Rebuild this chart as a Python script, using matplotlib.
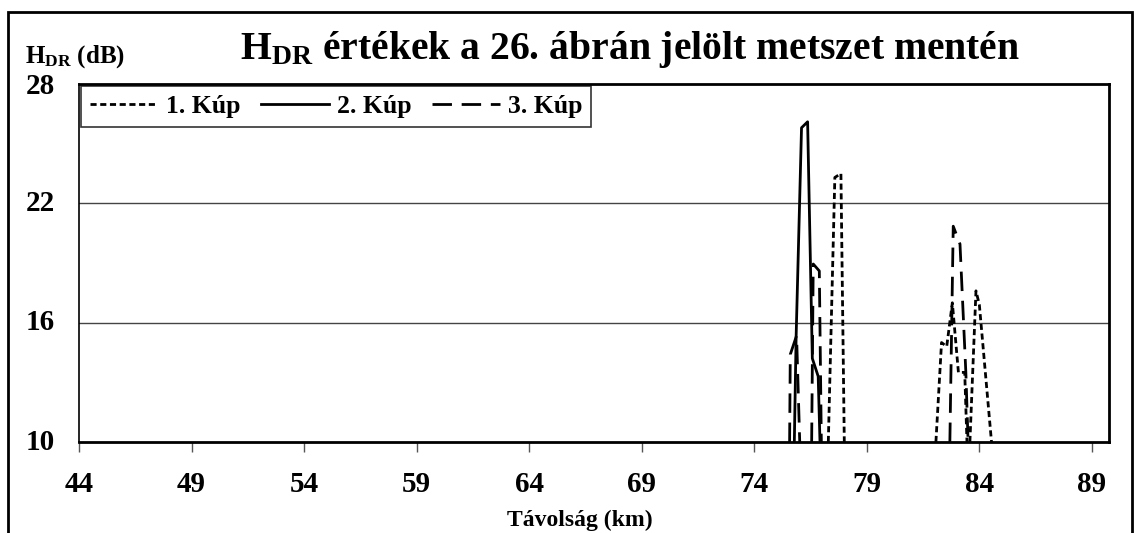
import matplotlib
matplotlib.use("Agg")
import matplotlib.pyplot as plt
import numpy as np
from matplotlib.patches import Rectangle

plt.rcParams['font.family'] = ['Liberation Serif', 'DejaVu Serif']
plt.rcParams['font.weight'] = 'bold'
plt.rcParams['mathtext.fontset'] = 'custom'
plt.rcParams['mathtext.rm'] = 'Liberation Serif:bold'
plt.rcParams['mathtext.bf'] = 'Liberation Serif:bold'
plt.rcParams['mathtext.it'] = 'Liberation Serif:bold'

# H_DR profiles along the section (km, dB); points at 10 dB sit on the axis floor
kup1_km = [77.29, 77.58, 77.85, 78.00, np.nan,
           82.07, 82.32, 82.55, 82.80, 83.07, 83.35, 83.45, np.nan,
           83.58, 83.85, 84.00, 84.54]
kup1_db = [10, 23.3, 23.5, 10, np.nan,
           10, 15.0, 14.8, 17.0, 13.5, 13.5, 10, np.nan,
           10, 17.6, 16.9, 10]

kup2_km = [75.78, 75.86, 76.10, 76.37, 76.58, 76.84, 76.92]
kup2_db = [10, 15.3, 25.8, 26.1, 14.2, 13.3, 10]

kup3_km = [75.57, 75.60, 75.88, 76.02, np.nan,
           76.55, 76.62, 76.89, 76.98, np.nan,
           82.69, 82.84, 83.14, 83.40, 83.50]
kup3_db = [10, 14.4, 15.35, 10, np.nan,
           10, 18.95, 18.6, 10, np.nan,
           10, 20.85, 19.95, 13.5, 10]

series_names = ['1. Kúp', '2. Kúp', '3. Kúp']
x_ticks = [44, 49, 54, 59, 64, 69, 74, 79, 84, 89]
y_ticks = [10, 16, 22, 28]

W, H = 1141, 533
fig = plt.figure(figsize=(W / 100, H / 100), dpi=100)
ax = fig.add_axes([79 / W, 1 - 442 / H, (1109 - 79) / W, (442 - 84) / H])

ax.plot(kup1_km, kup1_db, color='black', lw=2.0, dashes=(2.2, 1.3), label=series_names[0])
ax.plot(kup2_km, kup2_db, color='black', lw=2.0, label=series_names[1])
ax.plot(kup3_km, kup3_db, color='black', lw=2.0, dashes=(7, 3.5), label=series_names[2])

ax.set_xlim(44, 89.76)
ax.set_ylim(10, 28)
ax.set_xticks(x_ticks)
ax.set_yticks(y_ticks)
ax.set_yticklabels([])
ax.set_xticklabels([str(t) for t in x_ticks], fontsize=21, fontweight='bold')
ax.tick_params(axis='x', direction='out', length=7, width=1, color='#555555', pad=14)
ax.tick_params(axis='y', length=0)
for yv in y_ticks[1:3]:
    ax.axhline(yv, color='#444444', lw=1, zorder=0)
for s in ax.spines.values():
    s.set_linewidth(2)
ax.spines['left'].set_linewidth(1.2)

# y tick labels sit left-aligned in the margin
for yv in y_ticks:
    ax.text(-0.052, (yv - 10) / 18 - (0.006 if yv == 28 else 0), str(yv),
            transform=ax.transAxes, fontsize=21, fontweight='bold', ha='left', va='center')

fig.text(25 / W, 1 - 57 / H, r'H$_{\mathbf{DR}}$ (dB)', fontsize=18, fontweight='bold',
         ha='left', va='center')
fig.text(630 / W, 1 - 50 / H, r'H$_{\mathbf{DR}}$ értékek a 26. ábrán jelölt metszet mentén',
         fontsize=28.5, fontweight='bold', ha='center', va='center')
fig.text(580 / W, 1 - 520 / H, 'Távolság (km)', fontsize=17, fontweight='bold',
         ha='center', va='center')

leg = ax.legend(loc='upper left', bbox_to_anchor=(0.0, 1.0), ncol=3, frameon=True,
                fancybox=False, edgecolor='black', fontsize=18.5, handlelength=2.65,
                handletextpad=0.3, columnspacing=0.8, borderpad=0.35, borderaxespad=0.08)
leg.get_frame().set_linewidth(1.2)
for t in leg.get_texts():
    t.set_fontweight('bold')

fig.patches.append(Rectangle((8 / W, -0.1), (1132 - 8) / W, 1.1 - 12 / H,
                             transform=fig.transFigure, fill=False, lw=2, edgecolor='black'))

fig.savefig('out.png', dpi=100)
